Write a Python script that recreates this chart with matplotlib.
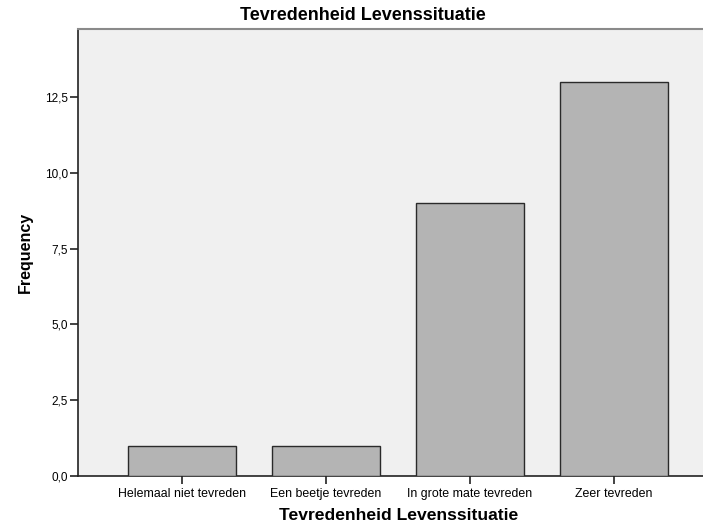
import matplotlib
matplotlib.use("Agg")
import matplotlib.pyplot as plt
from matplotlib.ticker import FuncFormatter

categories = ["Helemaal niet tevreden", "Een beetje tevreden", "In grote mate tevreden", "Zeer tevreden"]
frequency = [1, 1, 9, 13]
yticks = [0.0, 2.5, 5.0, 7.5, 10.0, 12.5]

plt.rcParams['font.family'] = ['Liberation Sans', 'DejaVu Sans']

W, H = 703, 529
fig = plt.figure(figsize=(W/100, H/100), dpi=100)
L, R, T, B = 78, 703, 29, 476
ax = fig.add_axes([L/W, 1 - B/H, (R-L)/W, (B-T)/H])
ax.set_facecolor('#f0f0f0')

x = list(range(len(categories)))
ax.bar(x, frequency, width=0.75, color='#b4b4b4', edgecolor='#2a2a2a', linewidth=1.0, zorder=3)

ax.set_xlim(-0.722, 3.618)
ax.set_ylim(0, 14.75)
ax.set_yticks(yticks)
ax.yaxis.set_major_formatter(FuncFormatter(lambda v, p: f"{v:.1f}".replace('.', ',')))
ax.set_xticks(x)
ax.set_xticklabels(categories, fontsize=8.9)
ax.tick_params(axis='y', labelsize=8.5, length=5.8, width=1.2, color='#222222', pad=1.4)
ax.tick_params(axis='x', length=6, width=1.2, color='#222222', pad=2.5)

for s in ['left', 'bottom']:
    ax.spines[s].set_color('#222222')
    ax.spines[s].set_linewidth(1.2)
ax.spines['top'].set_color('#8a8a8a')
ax.spines['top'].set_linewidth(1.5)
ax.spines['right'].set_visible(False)

fig.text(363/W, 1 - 16/H, "Tevredenheid Levenssituatie", fontsize=13.0, fontweight='bold',
         ha='center', va='center')
fig.text(398.5/W, 1 - 516/H, "Tevredenheid Levenssituatie", fontsize=12.6, fontweight='bold',
         ha='center', va='center')
fig.text(25/W, 1 - 252/H, "Frequency", fontsize=11.5, fontweight='bold',
         ha='center', va='center', rotation=90)

fig.savefig("out.png", dpi=100)
